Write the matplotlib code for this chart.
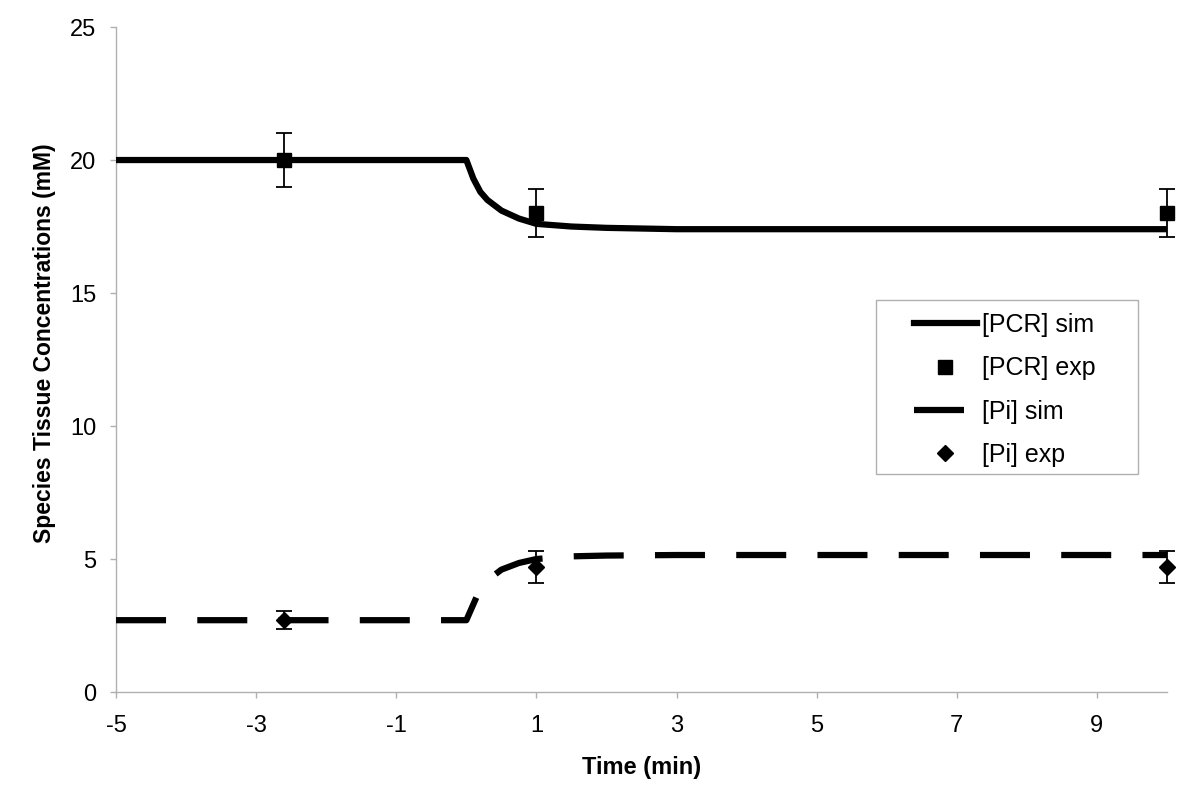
import matplotlib.pyplot as plt
from matplotlib.lines import Line2D
from matplotlib.patches import Rectangle

plt.rcParams['font.family'] = ['Liberation Sans', 'DejaVu Sans']
plt.rcParams['axes.unicode_minus'] = False

# simulated curves
t_sim = [-5, 0, 0.1, 0.2, 0.3, 0.5, 0.75, 1, 1.5, 2, 3, 5, 10]
pcr_sim = [20, 20, 19.3, 18.8, 18.5, 18.1, 17.8, 17.6, 17.5, 17.45, 17.4, 17.4, 17.4]
pi_sim = [2.7, 2.7, 3.3, 3.9, 4.2, 4.6, 4.85, 5.0, 5.1, 5.13, 5.15, 5.15, 5.15]

# experimental points
t_exp = [-2.6, 1, 10]
pcr_exp = [20, 18, 18]
pcr_err = [1.0, 0.9, 0.9]
pi_exp = [2.7, 4.7, 4.7]
pi_err = [0.35, 0.6, 0.6]

fig = plt.figure(figsize=(12, 8.07), dpi=100)
ax = fig.add_axes([0.0967, 0.1425, 0.8758, 0.824])

ax.plot(t_sim, pcr_sim, color='black', lw=4.5, solid_capstyle='butt', zorder=3)
ax.plot(t_sim, pi_sim, color='black', lw=4.5, dashes=(8, 5), dash_capstyle='butt', zorder=3)

for y, err, m, ms in [(pcr_exp, pcr_err, 's', 10), (pi_exp, pi_err, 'D', 8)]:
    eb = ax.errorbar(t_exp, y, yerr=err, fmt=m, color='black', ms=ms,
                     ecolor='black', elinewidth=1.3, capsize=6, capthick=1.3, zorder=4)
    for art in eb.get_children():
        art.set_clip_on(False)

ax.set_xlim(-5, 10)
ax.set_ylim(0, 25)
ax.set_xticks([-5, -3, -1, 1, 3, 5, 7, 9])
ax.set_yticks([0, 5, 10, 15, 20, 25])
ax.tick_params(axis='both', labelsize=17, color='#b0b0b0', length=4.5, width=1)
ax.tick_params(axis='x', pad=12)
ax.tick_params(axis='y', pad=9.5)

for side in ['top', 'right']:
    ax.spines[side].set_visible(False)
for side in ['left', 'bottom']:
    ax.spines[side].set_color('#b0b0b0')
    ax.spines[side].set_linewidth(1)

ax.set_xlabel('Time (min)', fontsize=17, fontweight='bold', labelpad=14)
ax.set_ylabel('Species Tissue Concentrations (mM)', fontsize=16.5, fontweight='bold')
ax.yaxis.set_label_coords(-0.057, 0.525)

# legend frame
ax.add_patch(Rectangle((0.723, 0.328), 0.249, 0.261, transform=ax.transAxes,
                       facecolor='white', edgecolor='#b0b0b0', lw=1, zorder=5))

handles = [
    Line2D([], [], color='black', lw=4.5),
    Line2D([], [], color='black', marker='s', ls='none', ms=10),
    Line2D([], [], color='black', lw=4.5, dashes=(8, 5)),
    Line2D([], [], color='black', marker='D', ls='none', ms=8),
]
labels = ['[PCR] sim', '[PCR] exp', '[Pi] sim', '[Pi] exp']
leg = ax.legend(handles, labels, loc='upper left', bbox_to_anchor=(0.751, 0.583),
                fontsize=18, frameon=False, handlelength=2.5, borderpad=0.35,
                labelspacing=0.77, handletextpad=0.2, borderaxespad=0)
leg.set_zorder(6)

fig.savefig('out.png', dpi=100)
